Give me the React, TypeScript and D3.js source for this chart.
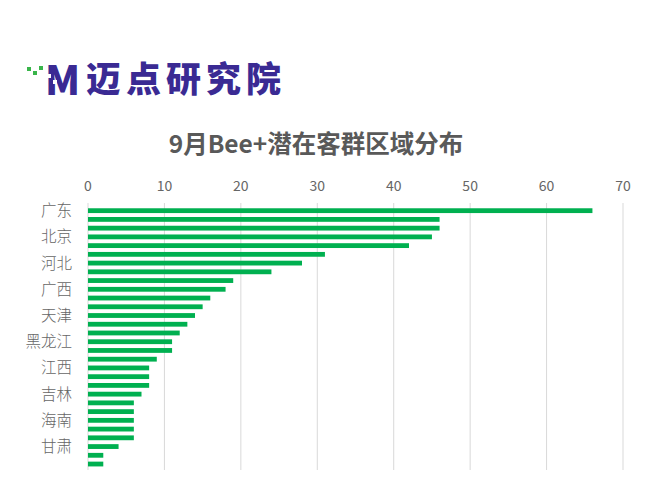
import * as d3 from "d3";

const provinces = [
  "广东", "浙江", "江苏", "北京", "上海", "山东", "河北", "四川", "福建", "广西",
  "河南", "湖北", "天津", "湖南", "辽宁", "黑龙江", "安徽", "云南", "江西", "陕西",
  "重庆", "吉林", "山西", "内蒙古", "海南", "贵州", "新疆", "甘肃", "宁夏", "青海",
];
const counts = [
  66, 46, 46, 45, 42, 31, 28, 24, 19, 18,
  16, 15, 14, 13, 12, 11, 11, 9, 8, 8,
  8, 7, 6, 6, 6, 6, 6, 4, 2, 2,
];
const shownLabels = ["广东", "北京", "河北", "广西", "天津", "黑龙江", "江西", "吉林", "海南", "甘肃"];
const xTicks = [0, 10, 20, 30, 40, 50, 60, 70];

const W = 650;
const H = 488;
const FONT = "'Microsoft YaHei', 'Noto Sans CJK SC', sans-serif";

export default function App() {
  const x = d3.scaleLinear().domain([0, 70]).range([88, 623]);
  const y = d3.scaleBand<string>().domain(provinces).range([206.3, 468.4]).paddingInner(0.45).paddingOuter(0.225);
  const barH = y.bandwidth();

  return (
    <svg width={W} height={H} style={{ position: "absolute", left: 0, top: 0 }}>
      <rect width={W} height={H} fill="#fff" />
      {/* logo */}
      <g>
        <rect x={27} y={67} width={4} height={4} fill="#39b54a" />
        <rect x={33} y={71} width={4} height={4} fill="#39b54a" />
        <rect x={39} y={66} width={4} height={4} fill="#39b54a" />
        <text x={45} y={95} fontFamily={FONT} fontWeight={900} fontSize={40} fill="#3a2a93">M</text>
        <rect x={47} y={74} width={4} height={4} fill="#fff" />
        <rect x={53} y={80} width={4} height={4} fill="#fff" />
        <text x={86} y={92} fontFamily={FONT} fontWeight={900} fontSize={35} letterSpacing={5} fill="#3a2a93">迈点研究院</text>
      </g>
      <text x={316} y={153} textAnchor="middle" fontFamily={FONT} fontWeight="bold" fontSize={24.5} fill="#595959">
        9月Bee+潜在客群区域分布
      </text>
      {xTicks.map((t) => (
        <g key={t}>
          <line x1={x(t)} x2={x(t)} y1={203} y2={470} stroke="#d9d9d9" strokeWidth={1} />
          <text x={x(t)} y={191} textAnchor="middle" fontFamily={FONT} fontSize={14} fill="#666">{t}</text>
        </g>
      ))}
      {provinces.map((p, i) => (
        <rect key={p} x={x(0)} y={y(p)!} width={x(counts[i]) - x(0)} height={barH} fill="#00b050" />
      ))}
      {provinces.filter((p) => shownLabels.includes(p)).map((p) => (
        <text key={p} x={72} y={y(p)! + barH / 2} dy="0.35em" textAnchor="end" fontFamily={FONT} fontWeight={300} fontSize={15.5} fill="#666">{p}</text>
      ))}
    </svg>
  );
}
